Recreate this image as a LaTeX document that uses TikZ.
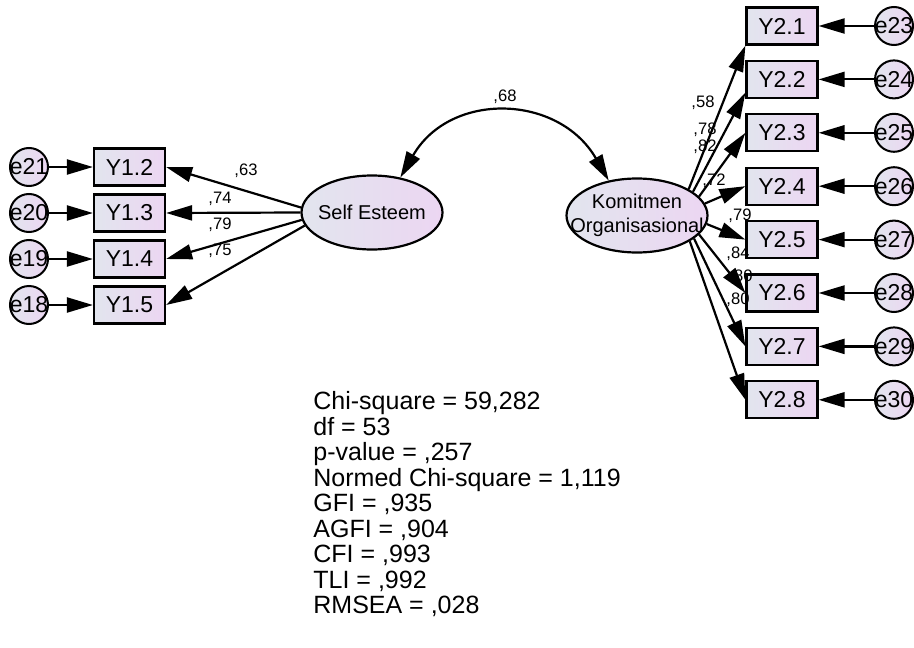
\documentclass[tikz,border=0pt]{standalone}
\usepackage{fontspec}
\setmainfont{Liberation Sans}
\usetikzlibrary{shapes.geometric,arrows.meta}
\definecolor{amosblue}{RGB}{226,229,238}
\definecolor{amospink}{RGB}{236,214,242}
\tikzset{
  obs/.style={draw,line width=1.1pt,left color=amosblue,right color=amospink,
    minimum width=35.5pt,minimum height=18.5pt,inner sep=0pt,font=\fontsize{11.5}{13}\selectfont},
  err/.style={draw,circle,line width=1pt,left color=amosblue,right color=amospink,
    minimum size=19pt,inner sep=0pt,font=\fontsize{11.5}{13}\selectfont},
  lat/.style={draw,ellipse,line width=1.1pt,left color=amosblue,right color=amospink,
    minimum width=70.5pt,minimum height=37pt,inner sep=0pt},
  latname/.style={inner sep=0pt,align=center,font=\fontsize{10}{12}\selectfont},
  coef/.style={inner sep=0pt,font=\fontsize{8.3}{10}\selectfont},
  arr/.style={line width=1.1pt,-{Triangle[length=13pt,width=7.5pt]}},
}
\begin{document}
\begin{tikzpicture}[x=0.5pt,y=-0.5pt]
  \useasboundingbox (0,0) rectangle (914,647);
  % latent variables
  \node[lat] (se) at (372,212.5) {};
  \node[latname] (setext) at (se) {Self Esteem};
  \node[lat] (ko) at (637,215.5) {};
  \node[latname] (kotext) at (ko) {Komitmen\\Organisasional};
  \draw[line width=1.1pt,{Triangle[length=13pt,width=7.5pt]}-{Triangle[length=13pt,width=7.5pt]}]
    (se.51) to[out=60,in=120,distance=50pt] (ko.129);
  \node[coef] (r68) at (505,96.5) {,68};
  % indicators of Self Esteem
  \foreach \n/\e/\a [count=\i] in {2/21/176,3/20/180,4/19/186,5/18/191}{
    \node[obs] (y1\n) at (129.5,121+46*\i) {Y1.\n};
    \node[err] (e\e) at (29,121+46*\i) {\makebox[0pt]{e\e}};
    \draw[arr] (e\e) -- (y1\n);
    \draw[arr] (se.\a) -- (y1\n.east);
  }
  % indicators of Komitmen Organisasional
  \foreach \n/\e/\a/\t in {1/23/27/south west,2/24/23/200,3/25/17/west,4/26/10/west,
      5/27/-7/west,6/28/-17/west,7/29/-22/west,8/30/-26/west}{
    \node[obs] (y2\n) at (782,-27.4+53.4*\n) {Y2.\n};
    \node[err] (e\e) at (894,-27.4+53.4*\n) {\makebox[0pt]{e\e}};
    \draw[arr] (e\e) -- (y2\n);
    \draw[arr] (ko.\a) -- (y2\n.\t);
  }
  % loadings
  \foreach \x/\y/\v [count=\k] in {246/171/63,220/199/74,220/225/79,220/251/75,
      703/103/58,705/130/78,705/147/82,714/181/72,740/216/79,738/254/84,741/277/80,738/300/80}{
    \node[coef] (c\k) at (\x,\y) {,\v};
  }
  % fit indices
  \node[anchor=north west,inner sep=0pt,align=left,font=\fontsize{12.5}{12.75}\selectfont] (gof) at (313,391)
    {Chi-square = 59,282\\df = 53\\p-value = ,257\\Normed Chi-square = 1,119\\GFI = ,935\\AGFI = ,904\\CFI = ,993\\TLI = ,992\\RMSEA = ,028};
\end{tikzpicture}
\end{document}
